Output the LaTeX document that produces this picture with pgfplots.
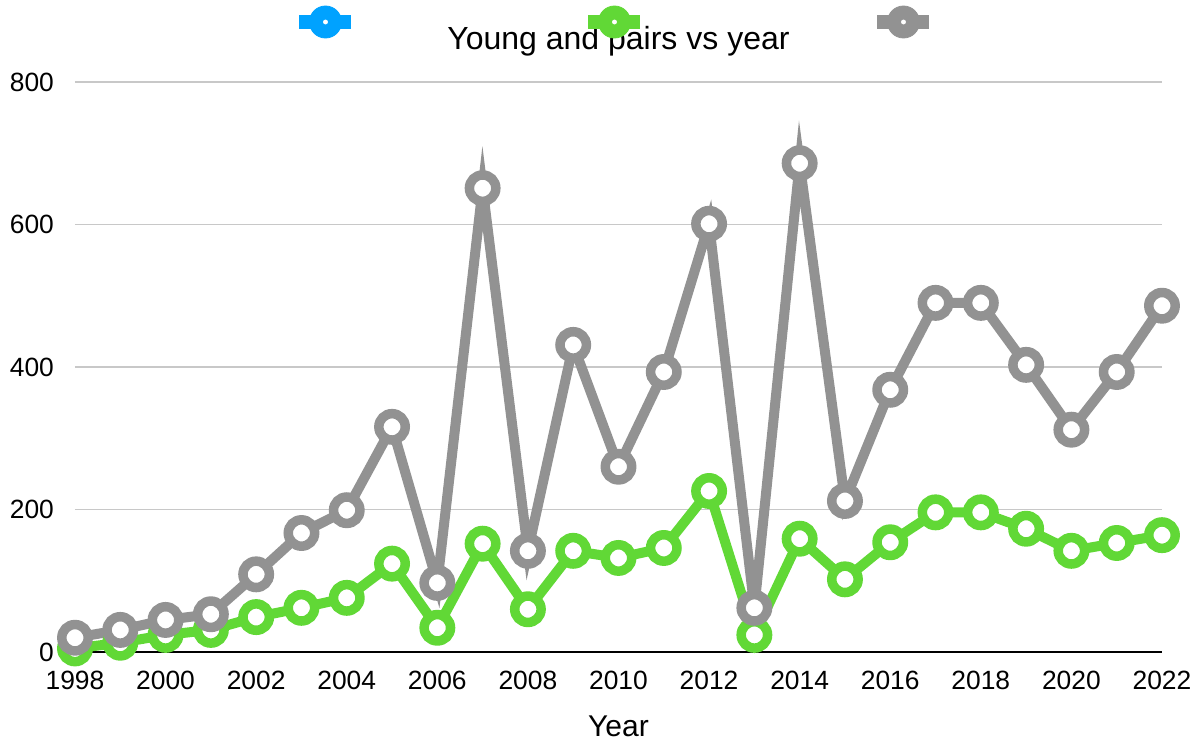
\documentclass[border=0pt]{standalone}
\usepackage{fontspec}
\setmainfont{Liberation Sans}
\usepackage{pgfplots}
\pgfplotsset{compat=1.18}
\definecolor{cblue}{HTML}{00A2FF}
\definecolor{cgreen}{HTML}{61D836}
\definecolor{cgray}{HTML}{929292}
\definecolor{cgrid}{HTML}{C8C8C8}
\begin{document}
\begin{tikzpicture}
\useasboundingbox (-37.5pt,-44pt) rectangle (563pt,326pt);
\begin{axis}[
  scale only axis,
  width=543.5pt, height=285pt,
  xmin=1998, xmax=2022, ymin=0, ymax=800,
  xtick distance=2, ytick={0,200,400,600,800},
  /pgf/number format/assume math mode=true,
  /pgf/number format/1000 sep={},
  tick label style={font=\fontsize{13.2}{16}\selectfont},
  xticklabel style={yshift=-6pt},
  yticklabel style={xshift=-7pt},
  major tick length=0pt,
  axis x line*=bottom, axis y line*=left,
  y axis line style={draw=none},
  x axis line style={black, line width=1pt},
  ymajorgrids, grid style={cgrid, line width=0.6pt},
  clip=false,
  xlabel={Year}, xlabel style={font=\fontsize{15}{18}\selectfont, yshift=-6pt},
  title={Young and pairs vs year},
  title style={font=\fontsize{16}{19}\selectfont, at={(0.5,1)}, anchor=base, yshift=10.5pt},
  legend style={at={(0.5,1)}, anchor=center, yshift=30pt, draw=none, fill=none,
    legend columns=3, /tikz/every even column/.append style={column sep=107.5pt}},
  legend cell align=left,
]
\addlegendimage{legend image code/.code={
  \draw[cblue, line width=7pt] (0pt,0pt) -- (26pt,0pt);
  \fill[cblue] (13pt,0pt) circle (8pt);
  \fill[white] (13pt,0pt) circle (1pt);}}
\addlegendentry{}
\addlegendimage{legend image code/.code={
  \draw[cgreen, line width=7pt] (0pt,0pt) -- (26pt,0pt);
  \fill[cgreen] (13pt,0pt) circle (8pt);
  \fill[white] (13pt,0pt) circle (1pt);}}
\addlegendentry{}
\addlegendimage{legend image code/.code={
  \draw[cgray, line width=7pt] (0pt,0pt) -- (26pt,0pt);
  \fill[cgray] (13pt,0pt) circle (8pt);
  \fill[white] (13pt,0pt) circle (1pt);}}
\addlegendentry{}
\addplot[forget plot, cgreen, line width=5pt, mark=*, mark size=6.6pt,
  mark options={fill=white, draw=cgreen, line width=4.75pt}] coordinates {
(1998,5) (1999,13) (2000,24) (2001,31) (2002,49) (2003,62) (2004,76) (2005,124)
(2006,34) (2007,152) (2008,60) (2009,142) (2010,132) (2011,146) (2012,226)
(2013,24) (2014,159) (2015,102) (2016,154) (2017,196) (2018,196) (2019,173)
(2020,142) (2021,153) (2022,164)};
\addplot[forget plot, cgray, line width=5pt, mark=*, mark size=6.6pt,
  mark options={fill=white, draw=cgray, line width=4.75pt}] coordinates {
(1998,20) (1999,31) (2000,45) (2001,53) (2002,109) (2003,167) (2004,199) (2005,316)
(2006,97) (2007,651) (2008,142) (2009,431) (2010,260) (2011,393) (2012,601)
(2013,62) (2014,686) (2015,212) (2016,368) (2017,490) (2018,490) (2019,403)
(2020,312) (2021,393) (2022,486)};
\end{axis}
\end{tikzpicture}
\end{document}
